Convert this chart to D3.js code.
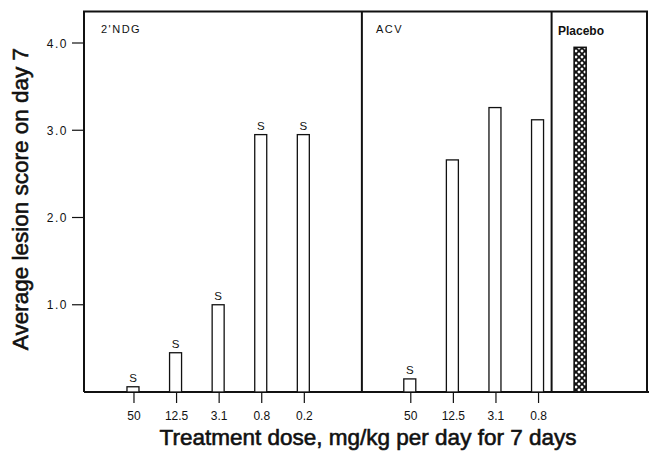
<!DOCTYPE html>
<html>
  <head>
    <meta charset="utf-8">
    <script src="https://d3js.org/d3.v7.min.js"></script>
    <title>Average lesion score on day 7</title>
    <style>
      body { margin: 0; background: #fff; }
      text { font-family: "Liberation Sans", Arial, sans-serif; fill: #111; }
    </style>
  </head>
  <body>
    <svg width="649" height="453"></svg>
    <script>
      // data
      const ndgDoses = ['50', '12.5', '3.1', '0.8', '0.2'];
      const ndgScores = [0.06, 0.45, 1.0, 2.95, 2.95];
      const ndgSig = [true, true, true, true, true];

      const acvDoses = ['50', '12.5', '3.1', '0.8'];
      const acvScores = [0.15, 2.66, 3.26, 3.12];
      const acvSig = [true, false, false, false];

      const placeboScore = 3.95;

      const yTicks = [1, 2, 3, 4];
      const yTickLabels = ['1.0', '2.0', '3.0', '4.0'];

      const svg = d3.select('svg');

      // slot positions: 2'NDG 0..4, ACV 6.5..9.5, placebo 10.5
      const x = d3.scaleLinear().domain([-1.15, 12.07]).range([84, 647]);
      const y = d3.scaleLinear().domain([0, 4]).range([392, 43]);
      const frameTop = y(4.36);
      const barW = 12;

      const bars = [];
      ndgDoses.forEach((d, i) => bars.push({ dose: d, v: ndgScores[i], s: ndgSig[i], slot: i }));
      acvDoses.forEach((d, i) => bars.push({ dose: d, v: acvScores[i], s: acvSig[i], slot: 6.5 + i }));

      // hatch pattern for placebo
      const pat = svg.append('defs').append('pattern')
        .attr('id', 'hatch')
        .attr('patternUnits', 'userSpaceOnUse')
        .attr('width', 6).attr('height', 6);
      pat.append('rect').attr('width', 6).attr('height', 6).attr('fill', '#fff');
      pat.append('path').attr('d', 'M-1,1 L1,-1 M0,6 L6,0 M5,7 L7,5')
        .attr('stroke', '#111').attr('stroke-width', 1.7);
      pat.append('path').attr('d', 'M-1,5 L1,7 M0,0 L6,6 M5,-1 L7,1')
        .attr('stroke', '#111').attr('stroke-width', 1.7);

      // frame
      svg.append('path')
        .attr('d', `M${x(-1.15)},${y(0)} V${frameTop} H${x(12.07)} V${y(0)}`)
        .attr('fill', 'none').attr('stroke', '#111').attr('stroke-width', 2);
      svg.append('line')
        .attr('x1', x(-1.15)).attr('x2', 649)
        .attr('y1', y(0)).attr('y2', y(0))
        .attr('stroke', '#111').attr('stroke-width', 2);

      // group dividers
      [5.375, 9.83].forEach(s => {
        svg.append('line')
          .attr('x1', x(s)).attr('x2', x(s))
          .attr('y1', frameTop).attr('y2', y(0))
          .attr('stroke', '#111').attr('stroke-width', 2);
      });

      // y ticks
      const yAxis = svg.append('g');
      yAxis.selectAll('line').data(yTicks).enter().append('line')
        .attr('x1', x(-1.15) - 12).attr('x2', x(-1.15))
        .attr('y1', d => y(d)).attr('y2', d => y(d))
        .attr('stroke', '#111').attr('stroke-width', 1.2);
      yAxis.selectAll('text').data(yTicks).enter().append('text')
        .attr('x', x(-1.15) - 16)
        .attr('y', d => y(d) + 4.5)
        .attr('text-anchor', 'end')
        .attr('font-size', 12)
        .attr('letter-spacing', 1.5)
        .text((d, i) => yTickLabels[i]);

      // bars
      svg.selectAll('rect.bar').data(bars).enter().append('rect')
        .attr('class', 'bar')
        .attr('x', d => x(d.slot) - barW / 2)
        .attr('y', d => y(d.v))
        .attr('width', barW)
        .attr('height', d => y(0) - y(d.v))
        .attr('fill', '#fff').attr('stroke', '#111').attr('stroke-width', 1.3);

      svg.selectAll('text.sig').data(bars.filter(d => d.s)).enter().append('text')
        .attr('class', 'sig')
        .attr('x', d => x(d.slot))
        .attr('y', d => y(d.v) - 5)
        .attr('text-anchor', 'middle')
        .attr('font-size', 11.5)
        .text('S');

      // x ticks and dose labels
      svg.selectAll('line.xt').data(bars).enter().append('line')
        .attr('class', 'xt')
        .attr('x1', d => x(d.slot) + 1).attr('x2', d => x(d.slot) + 1)
        .attr('y1', y(0)).attr('y2', y(0) + 11)
        .attr('stroke', '#111').attr('stroke-width', 1.2);
      svg.selectAll('text.dose').data(bars).enter().append('text')
        .attr('class', 'dose')
        .attr('x', d => x(d.slot) + 1)
        .attr('y', y(0) + 28)
        .attr('text-anchor', 'middle')
        .attr('font-size', 12)
        .text(d => d.dose);

      // placebo bar
      svg.append('rect')
        .attr('x', x(10.5) - barW / 2)
        .attr('y', y(placeboScore))
        .attr('width', barW)
        .attr('height', y(0) - y(placeboScore))
        .attr('fill', 'url(#hatch)').attr('stroke', '#111').attr('stroke-width', 1.6);

      // panel labels
      svg.append('text').attr('x', 101).attr('y', 33)
        .attr('font-size', 11).attr('letter-spacing', 1.5).text("2'NDG");
      svg.append('text').attr('x', 376).attr('y', 33)
        .attr('font-size', 11).attr('letter-spacing', 1.5).text('ACV');
      svg.append('text').attr('x', 558).attr('y', 35)
        .attr('font-size', 12).attr('font-weight', 'bold').text('Placebo');

      // axis titles
      svg.append('text')
        .attr('transform', 'translate(28,199) rotate(-90)')
        .attr('text-anchor', 'middle')
        .attr('font-size', 22.5)
        .attr('stroke', '#111').attr('stroke-width', 0.6)
        .text('Average lesion score on day 7');
      svg.append('text')
        .attr('x', 368).attr('y', 445)
        .attr('text-anchor', 'middle')
        .attr('font-size', 22.5)
        .attr('stroke', '#111').attr('stroke-width', 0.6)
        .text('Treatment dose, mg/kg per day for 7 days');
    </script>
  </body>
</html>
